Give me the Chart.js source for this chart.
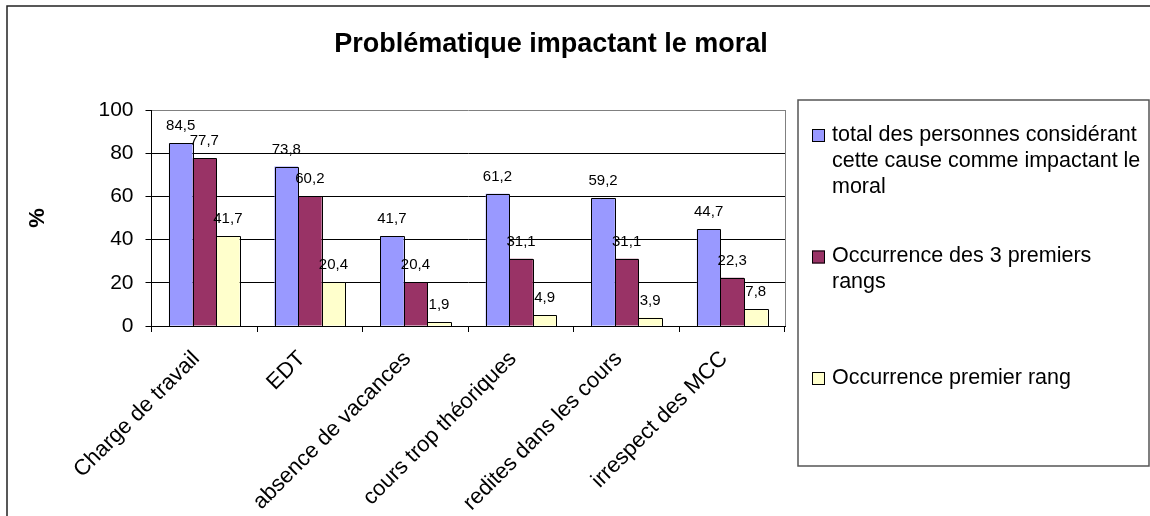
<!DOCTYPE html>
<html>
<head>
<meta charset="utf-8">
<script src="https://cdn.jsdelivr.net/npm/chart.js@4.4.0/dist/chart.umd.min.js"></script>
<style>
  html, body { margin: 0; padding: 0; background: #fff; }
  #wrap { position: relative; width: 1150px; height: 516px; }
</style>
</head>
<body>
<div id="wrap"><canvas id="myChart" width="1150" height="516"></canvas></div>
<script>
const categories = ["Charge de travail", "EDT", "absence de vacances", "cours trop théoriques", "redites dans les cours", "irrespect des MCC"];
const totalPersonnes = [84.5, 73.8, 41.7, 61.2, 59.2, 44.7];
const troisPremiers = [77.7, 60.2, 20.4, 31.1, 31.1, 22.3];
const premierRang = [41.7, 20.4, 1.9, 4.9, 3.9, 7.8];
const seriesNames = [
  "total des personnes considérant cette cause comme impactant le moral",
  "Occurrence des 3 premiers rangs",
  "Occurrence premier rang"
];
const seriesColors = ["#9999FF", "#993366", "#FFFFCC"];
const yTicks = [0, 20, 40, 60, 80, 100];

const FONT = "'Liberation Sans', Arial, sans-serif";

const formatFr = (v) => String(v).replace(".", ",");

const barStyle = {
  borderWidth: 0,
  inflateAmount: 0,
  categoryPercentage: 0.67,
  barPercentage: 1
};

// contour noir des barres
const outlinePlugin = {
  id: "outline",
  afterDatasetsDraw(chart) {
    const ctx = chart.ctx;
    ctx.save();
    ctx.strokeStyle = "#000";
    ctx.lineWidth = 1;
    chart.data.datasets.forEach((ds, i) => {
      chart.getDatasetMeta(i).data.forEach((bar) => {
        const p = bar.getProps(["x", "y", "base", "width"], true);
        const x0 = Math.round(p.x - p.width / 2) + 0.5;
        const x1 = Math.round(p.x + p.width / 2) + 0.5;
        const yt = Math.round(p.y) + 0.5;
        const yb = Math.round(p.base) + 0.5;
        ctx.beginPath();
        ctx.moveTo(x0, yb);
        ctx.lineTo(x0, yt);
        ctx.lineTo(x1, yt);
        ctx.lineTo(x1, yb);
        ctx.stroke();
      });
    });
    ctx.restore();
  }
};

// titre, "%", cadre, étiquettes de valeur et légende
const decorPlugin = {
  id: "decor",
  afterDraw(chart) {
    const ctx = chart.ctx;
    const area = chart.chartArea;
    ctx.save();

    // cadre extérieur
    ctx.strokeStyle = "#222";
    ctx.lineWidth = 1.5;
    ctx.strokeRect(7, 6, 1300, 700);

    // bord droit gris de la zone de tracé
    ctx.strokeStyle = "#808080";
    ctx.lineWidth = 1;
    ctx.beginPath();
    ctx.moveTo(Math.round(area.right) + 0.5, area.top);
    ctx.lineTo(Math.round(area.right) + 0.5, area.bottom);
    ctx.stroke();

    // titre
    ctx.fillStyle = "#000";
    ctx.font = "bold 27px " + FONT;
    ctx.textAlign = "center";
    ctx.textBaseline = "middle";
    ctx.fillText("Problématique impactant le moral", 551, 45);

    // titre de l'axe Y
    ctx.save();
    ctx.translate(38, 218);
    ctx.rotate(-Math.PI / 2);
    ctx.font = "bold 22px " + FONT;
    ctx.fillText("%", 0, 0);
    ctx.restore();

    // valeurs au-dessus des barres
    ctx.font = "15px " + FONT;
    ctx.textAlign = "center";
    ctx.textBaseline = "alphabetic";
    chart.data.datasets.forEach((ds, i) => {
      chart.getDatasetMeta(i).data.forEach((bar, j) => {
        ctx.fillText(formatFr(ds.data[j]), bar.x, bar.y - 13);
      });
    });

    // légende
    const lx = 798, ly = 100, lw = 351, lh = 366;
    ctx.strokeStyle = "#555";
    ctx.lineWidth = 1.5;
    ctx.strokeRect(lx, ly, lw, lh);
    ctx.font = "21.5px " + FONT;
    ctx.textAlign = "left";
    ctx.textBaseline = "middle";
    const maxW = 314;
    chart.data.datasets.forEach((ds, i) => {
      const y0 = ly + 35 + i * 121.5;
      ctx.fillStyle = ds.backgroundColor;
      ctx.fillRect(812, y0 - 6, 13, 13);
      ctx.strokeStyle = "#000";
      ctx.lineWidth = 1;
      ctx.strokeRect(812.5, y0 - 5.5, 12, 12);
      // découpage du texte
      const words = ds.label.split(" ");
      let lines = [], cur = "";
      words.forEach((w) => {
        const test = cur ? cur + " " + w : w;
        if (ctx.measureText(test).width > maxW && cur) {
          lines.push(cur);
          cur = w;
        } else {
          cur = test;
        }
      });
      lines.push(cur);
      ctx.fillStyle = "#000";
      lines.forEach((t, k) => ctx.fillText(t, 832, y0 + k * 26));
    });

    ctx.restore();
  }
};

const ctx = document.getElementById("myChart").getContext("2d");
const myChart = new Chart(ctx, {
  type: "bar",
  data: {
    labels: categories,
    datasets: [
      Object.assign({ label: seriesNames[0], data: totalPersonnes, backgroundColor: seriesColors[0] }, barStyle),
      Object.assign({ label: seriesNames[1], data: troisPremiers, backgroundColor: seriesColors[1] }, barStyle),
      Object.assign({ label: seriesNames[2], data: premierRang, backgroundColor: seriesColors[2] }, barStyle)
    ]
  },
  options: {
    responsive: false,
    animation: false,
    devicePixelRatio: 1,
    layout: { padding: { left: 0, top: 110, right: 365, bottom: 0 } },
    plugins: {
      legend: { display: false },
      title: { display: false },
      tooltip: { enabled: false }
    },
    scales: {
      x: {
        afterFit: (scale) => { scale.height = 190; },
        grid: {
          offset: true,
          drawOnChartArea: false,
          drawTicks: true,
          tickLength: 6,
          color: "#000"
        },
        border: { color: "#000", width: 1 },
        ticks: {
          color: "#000",
          font: { family: FONT, size: 22 },
          maxRotation: 45,
          minRotation: 45,
          padding: 14,
          labelOffset: -8,
          autoSkip: false
        }
      },
      y: {
        min: 0,
        max: 100,
        afterFit: (scale) => { scale.width = 151.5; },
        afterBuildTicks: (scale) => { scale.ticks = yTicks.map((v) => ({ value: v })); },
        grid: {
          color: (c) => (c.tick && c.tick.value === 100 ? "#808080" : "#000"),
          tickLength: 6,
          tickColor: "#000"
        },
        border: { color: "#000", width: 1 },
        ticks: {
          color: "#000",
          font: { family: FONT, size: 21 },
          padding: 12
        }
      }
    }
  },
  plugins: [outlinePlugin, decorPlugin]
});
</script>
</body>
</html>
